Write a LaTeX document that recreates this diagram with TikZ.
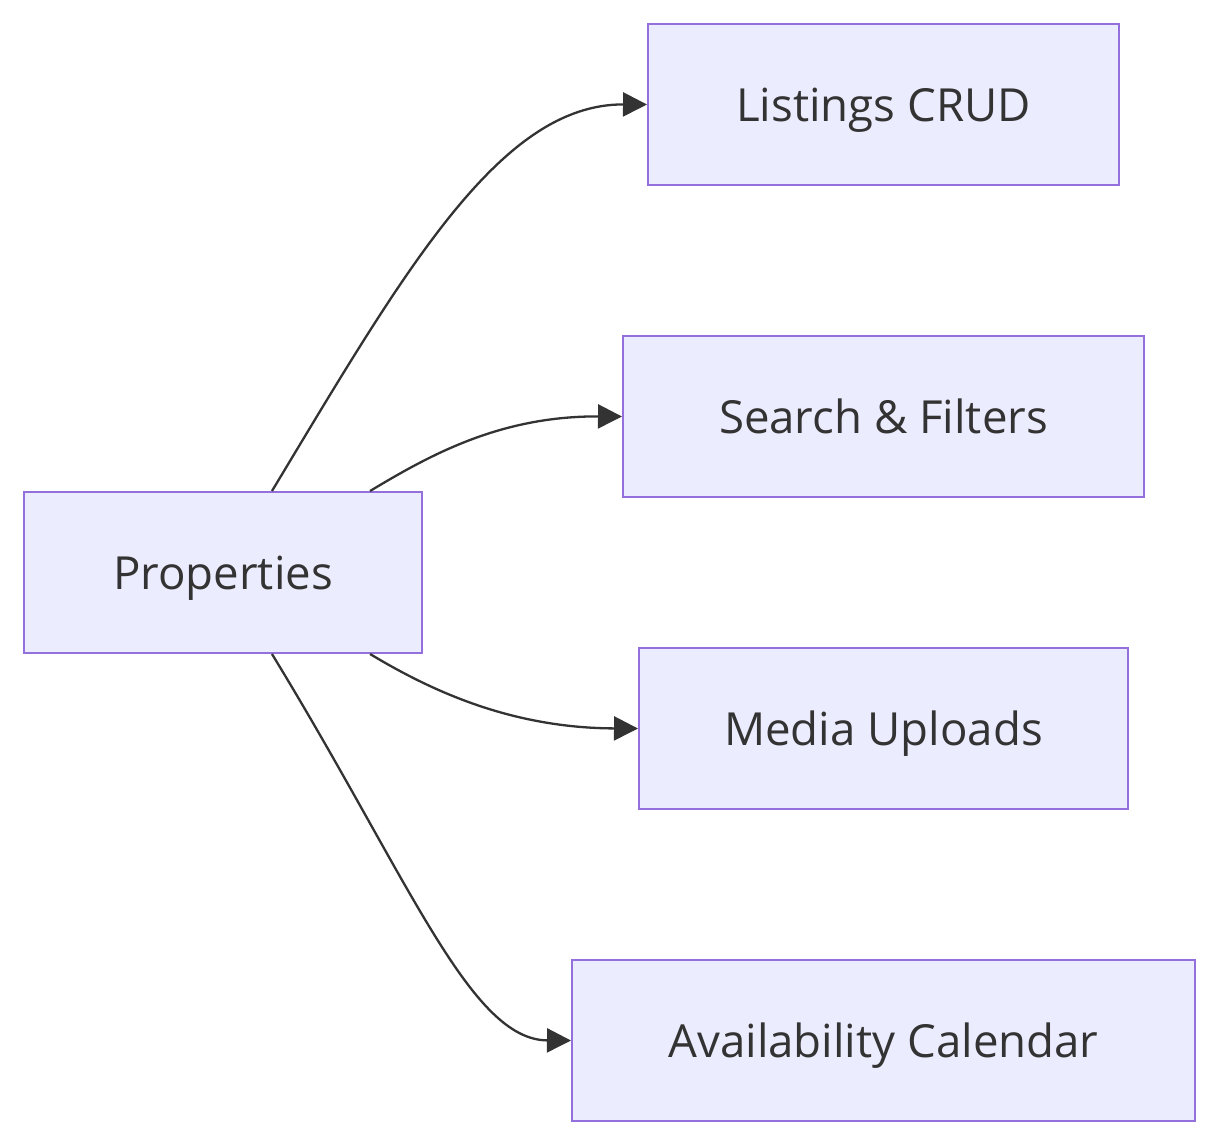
\documentclass[tikz,border=0pt]{standalone}
\usepackage{fontspec}
\setmainfont{Open Sans}
\usetikzlibrary{arrows.meta}
\definecolor{boxfill}{HTML}{ECECFF}
\definecolor{boxline}{HTML}{9370DB}
\definecolor{ink}{HTML}{333333}
\tikzset{
  box/.style={draw=boxline,fill=boxfill,line width=1pt,text=ink,
    font=\fontsize{22.8}{27}\selectfont,inner sep=0pt,minimum height=80.5pt,
    text height=16.6pt,text depth=0pt},
  link/.style={draw=ink,line width=1.15pt,-{Triangle[length=12pt,width=12pt]}}
}
\begin{document}
\begin{tikzpicture}[x=0.5pt,y=-0.5pt]
                    \useasboundingbox (0,0) rectangle (1220,1146);
                    \node [box,minimum width=199pt] (prop) at (223,572.5) {Properties};
                    \node [box,minimum width=235.5pt] (list) at (883.5,104.5) {Listings CRUD};
                    \node [box,minimum width=260.5pt] (search) at (883.5,416.5) {Search \& Filters};
                    \node [box,minimum width=244.5pt] (media) at (883.5,728.5) {Media Uploads};
                    \node [box,minimum width=311.5pt] (avail) at (883.5,1040.5) {Availability Calendar};
                    \draw [link] (prop.59) .. controls (405,270) and (500,104) .. (list.west);
                    \draw [link] (prop.29) .. controls (430,455) and (500,416) .. (search.west);
                    \draw [link] (prop.-29) .. controls (430,690) and (510,728) .. (media.west);
                    \draw [link] (prop.-59) .. controls (410,880) and (470,1040) .. (avail.west);
            \end{tikzpicture}
\end{document}
